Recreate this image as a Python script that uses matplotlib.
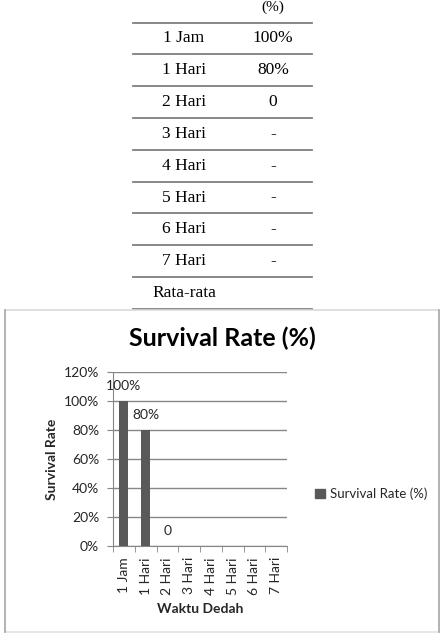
import matplotlib
matplotlib.use("Agg")
import matplotlib.pyplot as plt
from matplotlib.lines import Line2D
from matplotlib.patches import Rectangle
import numpy as np

# ---- data ----
table_times = ["1 Jam", "1 Hari", "2 Hari", "3 Hari", "4 Hari", "5 Hari", "6 Hari", "7 Hari", "Rata-rata"]
table_values = ["100%", "80%", "0", "-", "-", "-", "-", "-", ""]
table_header = "(%)"

categories = ["1 Jam", "1 Hari", "2 Hari", "3 Hari", "4 Hari", "5 Hari", "6 Hari", "7 Hari"]
survival = [100, 80, 0, None, None, None, None, None]
bar_labels = ["100%", "80%", "0", "", "", "", "", ""]
yticks = [0, 20, 40, 60, 80, 100, 120]

W, H = 445, 633
fig = plt.figure(figsize=(W / 100, H / 100), dpi=100)
fig.patch.set_facecolor("white")

def fx(px):
    return px / W

def fy(py):
    return 1 - py / H

# ---- table (top image) ----
serif = "Liberation Serif"
line_col = "#7f7f7f"
row_lines = [23, 54, 86, 118, 150, 182, 213, 245, 277, 309]
tx0, tx1 = 133, 312
for yl in row_lines:
    fig.add_artist(Line2D([fx(tx0), fx(tx1)], [fy(yl), fy(yl)], color=line_col, lw=1.3,
                          transform=fig.transFigure))
fig.text(fx(273), fy(1), table_header, ha="center", va="top", fontsize=11, family=serif)
for i, (t, v) in enumerate(zip(table_times, table_values)):
    yc = (row_lines[i] + row_lines[i + 1]) / 2
    fig.text(fx(184), fy(yc), t, ha="center", va="center", fontsize=12.5, family=serif)
    if v:
        fig.text(fx(273), fy(yc), v, ha="center", va="center", fontsize=12.5, family=serif)

# ---- chart border ----
fig.add_artist(Line2D([fx(5), fx(439)], [fy(310), fy(310)], color="#d9d9d9", lw=1.2, transform=fig.transFigure))
fig.add_artist(Line2D([fx(5), fx(439)], [fy(632), fy(632)], color="#e3e3e3", lw=1.2, transform=fig.transFigure))
fig.add_artist(Line2D([fx(5), fx(5)], [fy(310), fy(632)], color="#a6a6a6", lw=1.2, transform=fig.transFigure))
fig.add_artist(Line2D([fx(439), fx(439)], [fy(310), fy(632)], color="#a6a6a6", lw=1.2, transform=fig.transFigure))

# ---- chart ----
sans = "Lato"
txt_col = "#262626"
grid_col = "#868686"
ax_l, ax_r, ax_t, ax_b = 113, 287, 372, 546
ax = fig.add_axes([fx(ax_l), fy(ax_b), fx(ax_r) - fx(ax_l), fy(ax_t) - fy(ax_b)])
x = np.arange(len(categories))
vals = [v if v is not None else 0 for v in survival]
bars = ax.bar(x, vals, width=0.42, color="#595959", label="Survival Rate (%)", zorder=3)
ax.set_xlim(-0.5, len(categories) - 0.5)
ax.set_ylim(0, 120)
ax.set_yticks(yticks)
ax.set_yticklabels([f"{v}%" for v in yticks], fontsize=10, family=sans, color=txt_col)
ax.yaxis.grid(True, color=grid_col, lw=1.0, zorder=0)
ax.set_axisbelow(True)
for s in ["top", "right"]:
    ax.spines[s].set_visible(False)
ax.spines["left"].set_color(grid_col)
ax.spines["bottom"].set_color(grid_col)
ax.tick_params(axis="y", length=4, color=grid_col, pad=6)
ax.set_xticks(x)
ax.set_xticklabels(categories, rotation=90, fontsize=10, family=sans, color=txt_col)
ax.tick_params(axis="x", length=0, pad=8)
ax.set_xticks(np.arange(-0.5, len(categories)), minor=True)
ax.tick_params(axis="x", which="minor", length=4, color=grid_col)

for xi, v, lab in zip(x, vals, bar_labels):
    if lab:
        ax.annotate(lab, (xi, v), xytext=(0, 10.5), textcoords="offset points",
                    ha="center", va="center", fontsize=10, family=sans, color=txt_col)

ax.set_ylabel("Survival Rate", fontsize=10, fontweight="bold", family=sans, color=txt_col, labelpad=4)
ax.set_xlabel("Waktu Dedah", fontsize=10, fontweight="bold", family=sans, color=txt_col, labelpad=6)

fig.text(fx(222), fy(338), "Survival Rate (%)", ha="center", va="center", fontsize=18,
         fontweight="bold", family=sans, color="black")

leg = fig.legend(handles=[Rectangle((0, 0), 1, 1, color="#595959")], labels=["Survival Rate (%)"],
                 loc="center left", bbox_to_anchor=(fx(310), fy(494)), frameon=False,
                 prop={"family": sans, "size": 9.5}, handlelength=0.7, handleheight=0.7,
                 handletextpad=0.4, borderaxespad=0)
for t in leg.get_texts():
    t.set_color(txt_col)

fig.savefig("out.png", dpi=100, facecolor="white")
